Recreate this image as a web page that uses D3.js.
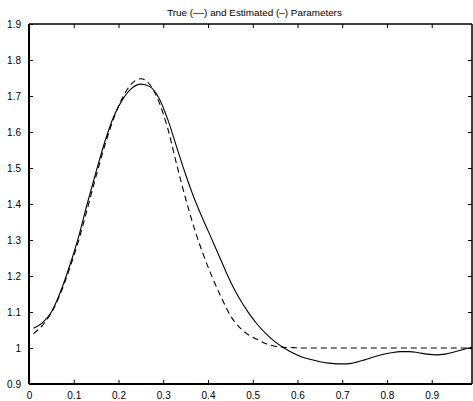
<!DOCTYPE html>
<head>
  <meta http-equiv="Content-Type" content="text/html; charset=utf-8">
  <style>
    body { margin: 0; background: #fff; }
    text { font-family: "Liberation Sans", Arial, Helvetica, sans-serif; }
  </style>
</head>
<body></body>
<script src="https://cdn.jsdelivr.net/npm/d3@7"></script>
<script>

var width = 473,
    height = 401;

// Inputs
var xValues = [0.01, 0.03, 0.05, 0.07, 0.09, 0.11, 0.13, 0.15, 0.17, 0.19,
               0.21, 0.23, 0.25, 0.27, 0.29, 0.31, 0.33, 0.35, 0.37, 0.39,
               0.41, 0.43, 0.45, 0.47, 0.49, 0.51, 0.53, 0.55, 0.57, 0.59,
               0.61, 0.63, 0.65, 0.67, 0.69, 0.71, 0.73, 0.75, 0.77, 0.79,
               0.81, 0.83, 0.85, 0.87, 0.89, 0.91, 0.93, 0.95, 0.97, 0.99];

// true parameters (dashed)
var trueValues = [1.040, 1.063, 1.098, 1.150, 1.218, 1.295, 1.385, 1.478, 1.565, 1.640,
                  1.698, 1.735, 1.748, 1.732, 1.685, 1.610, 1.510, 1.415, 1.330, 1.258,
                  1.195, 1.140, 1.090, 1.058, 1.037, 1.024, 1.012, 1.005, 1.002, 1.001,
                  1.000, 1.000, 1.000, 1.000, 1.000, 1.000, 1.000, 1.000, 1.000, 1.000,
                  1.000, 1.000, 1.000, 1.000, 1.000, 1.000, 1.000, 1.000, 1.000, 1.000];

// estimated parameters (solid)
var estValues = [1.055, 1.070, 1.100, 1.155, 1.225, 1.305, 1.400, 1.490, 1.575, 1.645,
                 1.692, 1.722, 1.733, 1.726, 1.695, 1.635, 1.558, 1.482, 1.413, 1.354,
                 1.298, 1.241, 1.185, 1.138, 1.099, 1.066, 1.039, 1.017, 1.000, 0.986,
                 0.975, 0.968, 0.962, 0.958, 0.956, 0.956, 0.960, 0.967, 0.975, 0.982,
                 0.987, 0.990, 0.990, 0.987, 0.983, 0.981, 0.983, 0.989, 0.996, 1.002];

var xTicks = [0, 0.1, 0.2, 0.3, 0.4, 0.5, 0.6, 0.7, 0.8, 0.9];
var yTicks = [0.9, 1, 1.1, 1.2, 1.3, 1.4, 1.5, 1.6, 1.7, 1.8, 1.9];
var title = "True (\u2013\u2013) and Estimated (\u2013) Parameters";

var mLeft = 29, mRight = 472, mTop = 24, mBottom = 384;

var xs = d3.scaleLinear()
    .domain([0, 0.99])
    .range([mLeft, mRight]);
var ys = d3.scaleLinear()
    .domain([0.9, 1.9])
    .range([mBottom, mTop]);

var svg = d3.select("body").append("svg")
    .attr("width", width)
    .attr("height", height);

svg.append("rect")
    .attr("width", width)
    .attr("height", height)
    .attr("fill", "#fff");

var line = d3.line()
    .x(function(d){ return xs(d[0]); })
    .y(function(d){ return ys(d[1]); })
    .curve(d3.curveMonotoneX);

var trueData = xValues.map(function(x, i){ return [x, trueValues[i]]; });
var estData = xValues.map(function(x, i){ return [x, estValues[i]]; });

svg.append("path")
    .attr("d", line(trueData))
    .attr("fill", "none")
    .attr("stroke", "#000")
    .attr("stroke-width", 1.1)
    .attr("stroke-dasharray", "6,4");

svg.append("path")
    .attr("d", line(estData))
    .attr("fill", "none")
    .attr("stroke", "#000")
    .attr("stroke-width", 1.1);

// axes: MATLAB style box with inward ticks
var fmt = function(d){ return d3.format("")(d); };
svg.append("g")
    .attr("transform", "translate(0," + mBottom + ")")
    .call(d3.axisBottom(xs).tickValues(xTicks).tickSizeInner(-4).tickSizeOuter(0).tickPadding(8).tickFormat(fmt));
svg.append("g")
    .attr("transform", "translate(" + mLeft + ",0)")
    .call(d3.axisLeft(ys).tickValues(yTicks).tickSizeInner(-4).tickSizeOuter(0).tickPadding(8).tickFormat(fmt));
svg.append("g")
    .attr("transform", "translate(0," + mTop + ")")
    .call(d3.axisTop(xs).tickValues(xTicks.slice(1)).tickSizeInner(-4).tickSizeOuter(0).tickFormat(""));
svg.append("g")
    .attr("transform", "translate(" + mRight + ",0)")
    .call(d3.axisRight(ys).tickValues(yTicks.slice(1, -1)).tickSizeInner(-4).tickSizeOuter(0).tickFormat(""));

svg.selectAll(".domain").remove();
svg.selectAll(".tick line").attr("stroke", "#000").attr("stroke-width", 1);
svg.selectAll(".tick text")
    .attr("fill", "#000")
    .style("font-size", "10px")
    .style("font-family", "'Liberation Sans', Arial, sans-serif");

// box frame
svg.append("line").attr("x1", mLeft).attr("x2", mRight).attr("y1", mBottom).attr("y2", mBottom)
    .attr("stroke", "#000").attr("stroke-width", 2);
svg.append("line").attr("x1", mLeft).attr("x2", mLeft).attr("y1", mTop).attr("y2", mBottom)
    .attr("stroke", "#000").attr("stroke-width", 2);
svg.append("line").attr("x1", mLeft).attr("x2", mRight).attr("y1", mTop).attr("y2", mTop)
    .attr("stroke", "#000").attr("stroke-width", 1.5);
svg.append("line").attr("x1", mRight).attr("x2", mRight).attr("y1", mTop).attr("y2", mBottom)
    .attr("stroke", "#000").attr("stroke-width", 1.5);

svg.append("text")
    .attr("x", (mLeft + mRight) / 2 + 4)
    .attr("y", 16)
    .attr("text-anchor", "middle")
    .style("font-size", "9.9px")
    .attr("fill", "#000")
    .text(title);

</script>
</html>
